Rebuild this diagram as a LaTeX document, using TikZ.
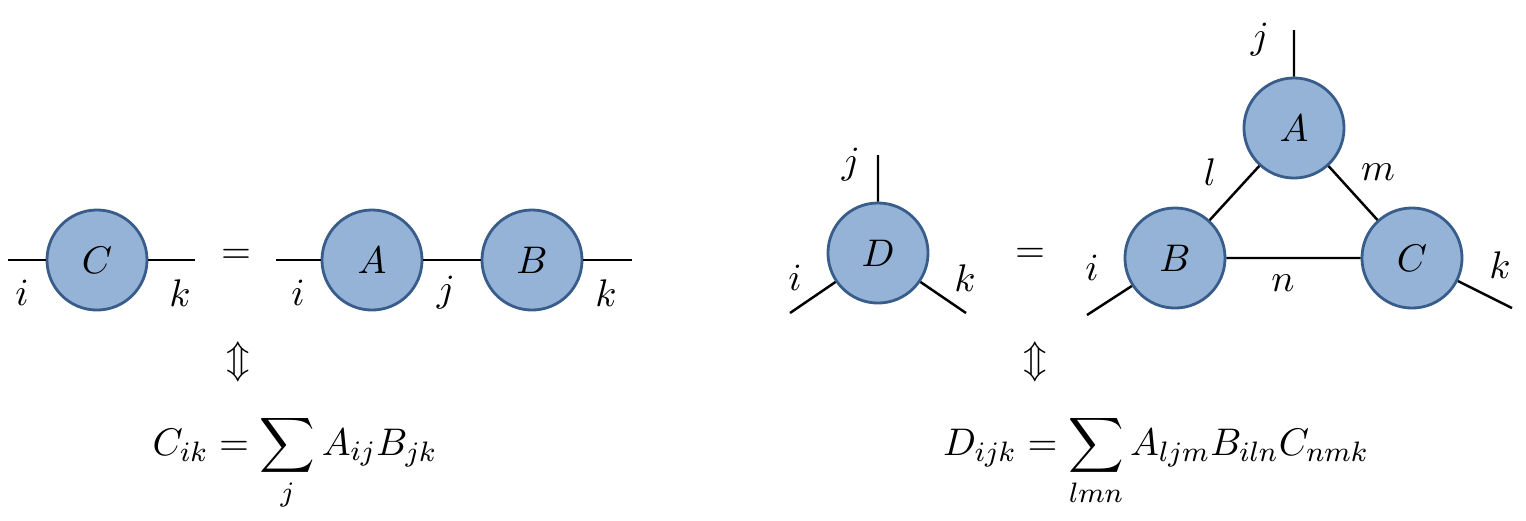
\documentclass[tikz,border=0pt]{standalone}
\usepackage{amsmath}
\definecolor{tfill}{HTML}{95B3D7}
\definecolor{tdraw}{HTML}{385D8A}
\tikzset{
    tensor/.style={circle, draw=tdraw, fill=tfill, line width=0.8pt, minimum size=1cm, inner sep=0pt},
    leg/.style={line width=0.7pt},
}
\begin{document}
\begin{tikzpicture}[x=0.01cm, y=-0.01cm, >=stealth, font=\fontsize{11}{13}\selectfont]
\useasboundingbox (0,0) rectangle (1526,520);
% left: C = A B
\node[tensor] (C) at (97,260) {$C$};
\node[tensor] (A) at (372,260) {$A$};
\node[tensor] (B) at (532,260) {$B$};
\coordinate (Ci) at (8,260);
\coordinate (Ck) at (195,260);
\coordinate (Ai) at (276,260);
\coordinate (Bk) at (632,260);
\draw[leg] (Ci)--(C) (C)--(Ck) (Ai)--(A) (A)--(B) (B)--(Bk);
\foreach \n/\x/\t in {li1/22/i,lk1/180/k,li2/298/i,lj2/446/j,lk2/606/k}
{
    \node (\n) at (\x,293) {$\t$};
}
\node (eq1) at (236,256) {$=$};
\node (iff1) at (238,362) {$\Updownarrow$};
\node[anchor=base] (sum1) at (295,455) {$\displaystyle C_{ik}=\sum_{j}A_{ij}B_{jk}$};

% right: D = A B C
\node[tensor] (D) at (878,253) {$D$};
\coordinate (Dj) at (878,155);
\coordinate (Di) at (790,313);
\coordinate (Dk) at (966,313);
\draw[leg] (Dj)--(D) (Di)--(D) (D)--(Dk);
\node (lDj) at (851,165) {$j$};
\node (lDi) at (795,278) {$i$};
\node (lDk) at (965,278) {$k$};
\node (eq2) at (1030,255) {$=$};

\node[tensor] (TA) at (1294,128) {$A$};
\node[tensor] (TB) at (1175,258) {$B$};
\node[tensor] (TC) at (1412,258) {$C$};
\coordinate (TAj) at (1294,30);
\coordinate (TBi) at (1087,315);
\coordinate (TCk) at (1512,308);
\draw[leg] (TAj)--(TA) (TA)--(TB) (TA)--(TC) (TB)--(TC) (TBi)--(TB) (TC)--(TCk);
\foreach \n/\x/\y/\t in {lTj/1260/40/j,lTl/1210/172/l,lTm/1378/172/m,lTn/1283/283/n,lTi/1092/268/i,lTk/1500/265/k}
{
    \node (\n) at (\x,\y) {$\t$};
}
\node (iff2) at (1035,362) {$\Updownarrow$};
\node[anchor=base] (sum2) at (1156,455) {$\displaystyle D_{ijk}=\sum_{lmn}A_{ljm}B_{iln}C_{nmk}$};
\end{tikzpicture}
\end{document}
